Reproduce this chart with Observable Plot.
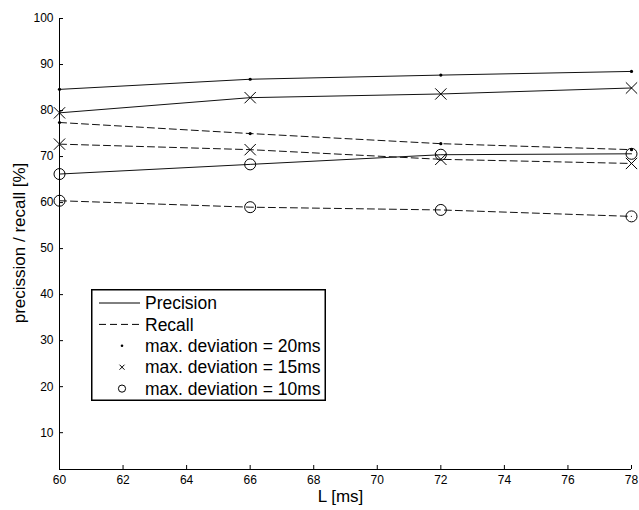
<!DOCTYPE html>
<html><head><meta charset="utf-8">
<script src="https://cdn.jsdelivr.net/npm/d3@7"></script>
<script src="https://cdn.jsdelivr.net/npm/@observablehq/plot@0.6"></script>
<style>
body{margin:0;background:#fff;}
#wrap{position:relative;width:639px;height:510px;font-family:"Liberation Sans",Arial,Helvetica,sans-serif;}
#legend{position:absolute;left:91px;top:289px;}
</style></head><body><div id="wrap"></div>
<script>
const L = [60, 66, 72, 78];
const precision20 = [84.6, 86.8, 87.7, 88.5];
const precision15 = [79.5, 82.8, 83.6, 84.9];
const precision10 = [66.2, 68.3, 70.4, 70.6];
const recall20 = [77.4, 75.0, 72.8, 71.5];
const recall15 = [72.7, 71.5, 69.4, 68.5];
const recall10 = [60.4, 59.0, 58.4, 57.0];
const xTicks = [60, 62, 64, 66, 68, 70, 72, 74, 76, 78];
const yTicks = [10, 20, 30, 40, 50, 60, 70, 80, 90, 100];
const legendLabels = ["Precision", "Recall", "max. deviation = 20ms", "max. deviation = 15ms", "max. deviation = 10ms"];
const xLabel = "L [ms]";
const yLabel = "precission / recall [%]";

const series = [
  {metric: "Precision", dev: 20, values: precision20},
  {metric: "Precision", dev: 15, values: precision15},
  {metric: "Precision", dev: 10, values: precision10},
  {metric: "Recall", dev: 20, values: recall20},
  {metric: "Recall", dev: 15, values: recall15},
  {metric: "Recall", dev: 10, values: recall10}
];
const rows = series.flatMap(s => s.values.map((v, i) => ({L: L[i], v, metric: s.metric, dev: s.dev, key: s.metric + s.dev})));

const font = "'Liberation Sans', Arial, Helvetica, sans-serif";

const chart = Plot.plot({
  width: 639, height: 510,
  marginLeft: 59, marginRight: 8, marginTop: 18, marginBottom: 41,
  style: {fontFamily: font, fontSize: "12px", background: "#fff", color: "#000"},
  x: {domain: [60, 78]},
  y: {domain: [2, 100]},
  marks: [
    Plot.ruleX([60], {stroke: "#000", strokeWidth: 1}),
    Plot.ruleY([2], {stroke: "#000", strokeWidth: 1}),
    Plot.axisX({ticks: xTicks, tickSize: -4, tickPadding: 10, label: null, fontSize: 12, stroke: "#000"}),
    Plot.axisY({ticks: yTicks, tickSize: -4, tickPadding: 10, label: null, fontSize: 12, stroke: "#000"}),
    Plot.line(rows.filter(d => d.metric === "Precision"), {x: "L", y: "v", z: "key", stroke: "#111", strokeWidth: 1}),
    Plot.line(rows.filter(d => d.metric === "Recall"), {x: "L", y: "v", z: "key", stroke: "#111", strokeWidth: 1, strokeDasharray: "7,4"}),
    Plot.dot(rows.filter(d => d.dev === 20), {x: "L", y: "v", r: 1.6, fill: "#000", stroke: null}),
    Plot.dot(rows.filter(d => d.dev === 15), {x: "L", y: "v", symbol: "times", r: 5.2, stroke: "#000", strokeWidth: 1}),
    Plot.dot(rows.filter(d => d.dev === 10), {x: "L", y: "v", symbol: "circle", r: 5.5, fill: "none", stroke: "#000", strokeWidth: 1}),
    Plot.text([xLabel], {text: d => d, frameAnchor: "bottom", dy: 27, dx: -5, fontSize: 17, lineAnchor: "middle"}),
    Plot.text([yLabel], {text: d => d, frameAnchor: "left", textAnchor: "middle", dx: -40, dy: -1, rotate: -90, fontSize: 17, lineAnchor: "middle"})
  ]
});
const wrap = document.getElementById("wrap");
wrap.appendChild(chart);

// legend overlay
const lw = 235, lh = 112;
const leg = d3.create("svg").attr("id", "legend").attr("width", lw).attr("height", lh)
  .style("font-family", font);
leg.append("rect").attr("x", 0.75).attr("y", 0.75).attr("width", lw - 1.5).attr("height", lh - 1.5)
  .attr("fill", "#fff").attr("stroke", "#000").attr("stroke-width", 1.5);
const rowY = i => 14 + i * 21.4;
legendLabels.forEach((t, i) => {
  leg.append("text").attr("x", 54).attr("y", rowY(i)).attr("dy", "0.35em")
    .attr("font-size", 17.5).attr("fill", "#000").text(t);
});
leg.append("line").attr("x1", 8).attr("x2", 49).attr("y1", rowY(0)).attr("y2", rowY(0)).attr("stroke", "#000");
leg.append("line").attr("x1", 8).attr("x2", 49).attr("y1", rowY(1)).attr("y2", rowY(1)).attr("stroke", "#000").attr("stroke-dasharray", "7,4");
leg.append("circle").attr("cx", 31).attr("cy", rowY(2)).attr("r", 1.3).attr("fill", "#000");
leg.append("path").attr("d", `M${28.5},${rowY(3)-2.5}L${33.5},${rowY(3)+2.5}M${28.5},${rowY(3)+2.5}L${33.5},${rowY(3)-2.5}`).attr("stroke", "#000");
leg.append("circle").attr("cx", 31).attr("cy", rowY(4)).attr("r", 3.6).attr("fill", "none").attr("stroke", "#000");
wrap.appendChild(leg.node());
</script></body></html>
